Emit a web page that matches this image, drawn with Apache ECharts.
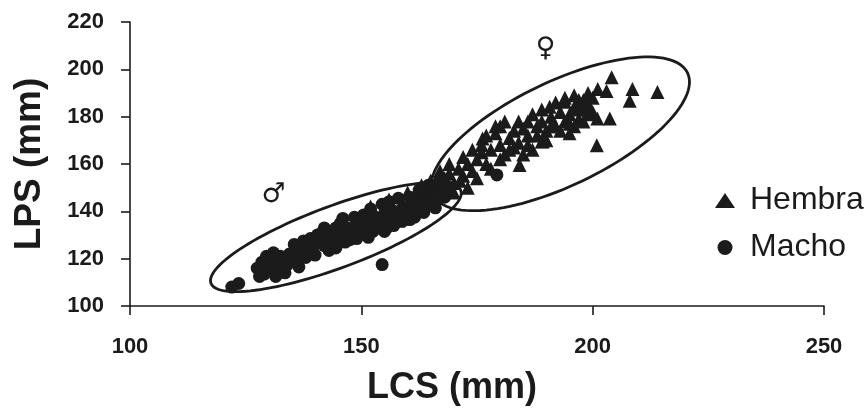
<!DOCTYPE html>
<html>
<head>
<meta charset="utf-8">
<script src="https://cdn.jsdelivr.net/npm/echarts@6/dist/echarts.min.js"></script>
<style>
html,body{margin:0;padding:0;background:#fff;}
#chart{width:868px;height:411px;}
</style>
</head>
<body>
<div id="chart"></div>
<script>
// ---- data (LCS mm, LPS mm) ----
const xTicks = [100, 150, 200, 250];
const yTicks = [100, 120, 140, 160, 180, 200, 220];
const seriesNames = ['Hembra', 'Macho'];

const macho = [
  [122,108],[123.5,109.5],
  [128.5,118.5],[130.5,120],[130,115.5],[132,116],[133,118],[131.5,112.5],[134,117.5],[129,113.5],[131,117.5],[132.5,121],
  [127.5,116],[129.5,121],[133.5,114],[128,112.5],[134.5,120],[131,122.5],
  [136.5,116.5],
  [134.5,122],[136,124],[137,121.5],[138,125],[135.5,126],[139,123.5],[137.5,127.5],[140,126],
  [136,119.5],[138,120.5],[139,128.5],[140,121.5],[140.5,130],[142,133],[143,123.5],[144.5,124.5],[145.5,135],[146,137],[147.5,128],[148.5,137.5],
  [141,128],[142,125.5],[143,130],[141.5,131],[144,127],[145,131.5],[146,129],[144.5,133],[147,133],[146.5,127],
  [148,131],[149,134.5],[150,132],[151,136],[150.5,130.5],[152,134],[153,137.5],[152.5,131.5],[154,135],
  [149,128.5],[150.5,138.5],[151.5,129],[152,141],[153.5,133],[154.5,143],[155,131.5],[156,144],
  [155,139],[156,136.5],[157,140],[155.5,133],[158,138],[159,141.5],[160,139],[161,143],[160.5,136.5],
  [157,134],[158,145.5],[159,136],[160.5,146],[161.5,137.5],[162.5,149],[163.5,139.5],[164.5,151],[166,141.5],[167,153.5],[168,146],
  [162,141],[163,145],[164,142.5],[165,147],[166,144],[167,149],[168,152],[169,150],
  [154.5,117.5],[179.3,155.4]
];

const hembra = [
  [150,135],[153,139],[155,141.5],[157,137.5],[159,143],[161,140],[162,146],[164,148],[166,150],[168,154],
  [169,156],[170,152],[171,158],[172,155],[173,160],[174,157],[175,162],[176,165],[176.2,170.8],[177,160],
  [178,166],[179,173],[180,168],[181,164],[182,171],[183,174],[184.2,159.6],[184,169],[185,175],[186,172],
  [187,166],[188,176],[189,169.5],[189,178],[190,174],[191,180],[190.7,184.2],[192,176],[193,182],[194,186.3],
  [194,178],[195,181],[196,184],[197,179],[197,187],[198,183],[199,181],[199,185.5],[200,188],[201.1,191.7],
  [203,190.8],[204.1,196.7],[201,179.2],[203.7,179.2],[200.9,167.9],[208.6,191.7],[208,186.7],[214,190.4],
  [189.2,169.6],[196,176],[186,178],[180,176],[171.3,152.9],[167,147],[165,144],[163,142],[158,136],
  [152,142],[156,145],[160,148],[163,151],[165,153],[167,157],[169,160],[170,148],[172,163],[173,150],
  [174,166],[175,154],[176,168],[177,172],[178,158],[179,176],[180,162],[181,178],[182,166],[183,167],
  [184,178],[185,164],[186,168],[187,181],[188,172],[189,183],[190,170],[191,176],[192,186],[193,174],
  [194,188],[195,177],[196,189],[197,183],[198,178],[199,190],[200,182],[198,187],[195,173]
];

// ellipse annotations: tip A (x,y), tip B (x,y), half-width (px)
const ellipseMacho = [117.5, 109.6, 171.5, 148.8, 31];
const ellipseHembra = [165.5, 147.0, 220.5, 198.5, 52];
const sexSymbols = [
  { text: '♂', at: [131.0, 146.5] },
  { text: '♀', at: [190.3, 208.3] }
];

const chart = echarts.init(document.getElementById('chart'), null, { renderer: 'canvas' });
const ink = '#1b1b1b';
const baseFont = '"Liberation Sans", Arial, sans-serif';

function ellipseItem(params, api) {
  const p1 = api.coord([api.value(0), api.value(1)]);
  const p2 = api.coord([api.value(2), api.value(3)]);
  const b = api.value(4);
  const cx = (p1[0] + p2[0]) / 2, cy = (p1[1] + p2[1]) / 2;
  const dx = p2[0] - p1[0], dy = p2[1] - p1[1];
  const a = Math.sqrt(dx * dx + dy * dy) / 2;
  const ang = Math.atan2(dy, dx);
  const pts = [];
  for (let i = 0; i < 120; i++) {
    const t = i / 120 * Math.PI * 2;
    const ex = a * Math.cos(t), ey = b * Math.sin(t);
    pts.push([cx + ex * Math.cos(ang) - ey * Math.sin(ang), cy + ex * Math.sin(ang) + ey * Math.cos(ang)]);
  }
  return { type: 'polygon', shape: { points: pts }, style: { fill: 'none', stroke: ink, lineWidth: 2.8 }, silent: true };
}

const option = {
  animation: false,
  backgroundColor: '#fff',
  grid: { left: 130, right: 44, top: 22, bottom: 101, containLabel: false },
  xAxis: {
    type: 'value', min: 100, max: 250, interval: 50,
    name: 'LCS (mm)', nameLocation: 'middle', nameGap: 64,
    nameTextStyle: { fontFamily: baseFont, fontWeight: 'bold', fontSize: 36, color: ink, padding: [0, 50, 0, 0] },
    axisLine: { onZero: false, lineStyle: { color: ink, width: 1.6 } },
    axisTick: { length: 9, lineStyle: { color: ink, width: 1.6 } },
    axisLabel: { margin: 30, fontFamily: baseFont, fontWeight: 'bold', fontSize: 22, color: ink },
    splitLine: { show: false }
  },
  yAxis: {
    type: 'value', min: 100, max: 220, interval: 20,
    name: 'LPS (mm)', nameLocation: 'middle', nameGap: 82, nameRotate: 90,
    nameTextStyle: { fontFamily: baseFont, fontWeight: 'bold', fontSize: 37, color: ink },
    axisLine: { show: true, onZero: false, lineStyle: { color: ink, width: 1.6 } },
    axisTick: { show: true, length: 9, lineStyle: { color: ink, width: 1.6 } },
    axisLabel: { margin: 26, fontFamily: baseFont, fontWeight: 'bold', fontSize: 22, color: ink },
    splitLine: { show: false }
  },
  legend: {
    orient: 'vertical', left: 710, top: 179,
    data: [{ name: seriesNames[0], icon: 'triangle' }, { name: seriesNames[1], icon: 'circle' }],
    itemWidth: 20, itemHeight: 15, itemGap: 14,
    textStyle: { fontFamily: baseFont, fontSize: 32, color: ink, lineHeight: 33, padding: [0, 0, 0, 10] },
    selectedMode: false
  },
  series: [
    { name: seriesNames[1], type: 'scatter', data: macho, symbol: 'circle', symbolSize: 13, itemStyle: { color: ink, opacity: 1 }, z: 3 },
    { name: seriesNames[0], type: 'scatter', data: hembra, symbol: 'triangle', symbolSize: 14, itemStyle: { color: ink, opacity: 1 }, z: 3 },
    { name: 'ellipses', type: 'custom', renderItem: ellipseItem, data: [ellipseMacho, ellipseHembra], silent: true, z: 4 }
  ]
};
chart.setOption(option);

chart.setOption({
  graphic: sexSymbols.map(s => {
    const p = chart.convertToPixel({ gridIndex: 0 }, s.at);
    return {
      type: 'text', left: p[0] - 12, top: p[1] - 14,
      style: { text: s.text, fontSize: 27, fontFamily: '"DejaVu Sans", sans-serif', fill: ink }
    };
  })
});
</script>
</body>
</html>
